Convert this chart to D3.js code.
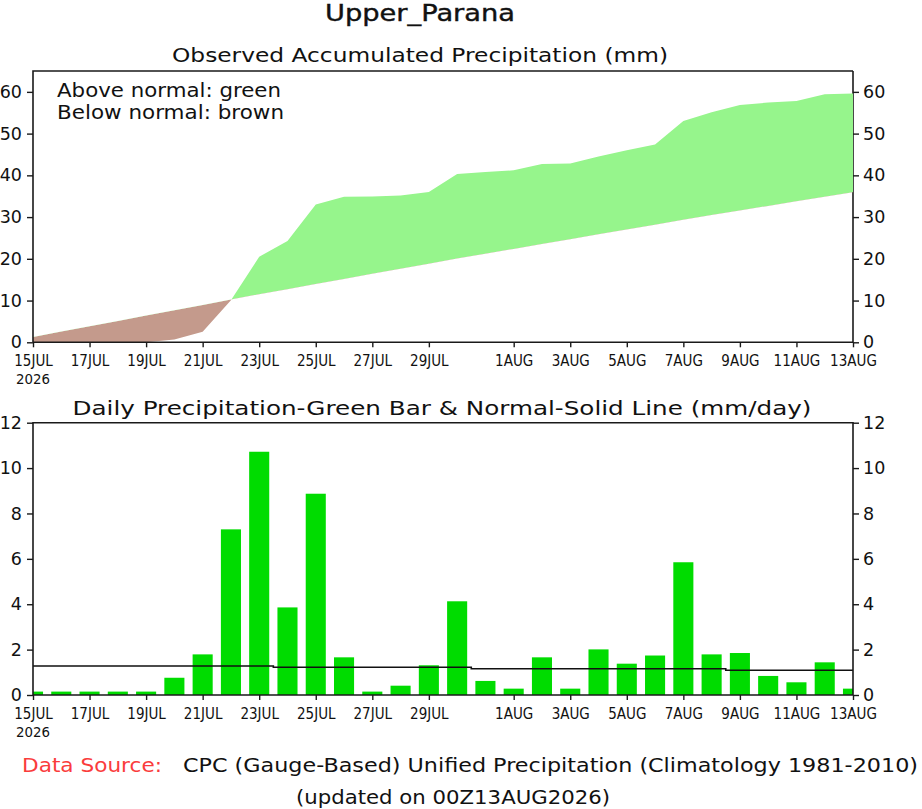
<!DOCTYPE html>
<html><head><meta charset="utf-8">
<script src="https://cdn.jsdelivr.net/npm/d3@7"></script>
<style>
body{margin:0;background:#fff}
svg{display:block}
text{font-family:"DejaVu Sans",sans-serif}
</style>
</head><body>
<svg id="c" width="922" height="809"></svg>
<script>
// ---------------- data ----------------
const days = ["15JUL","16JUL","17JUL","18JUL","19JUL","20JUL","21JUL","22JUL","23JUL","24JUL",
  "25JUL","26JUL","27JUL","28JUL","29JUL","30JUL","31JUL","1AUG","2AUG","3AUG",
  "4AUG","5AUG","6AUG","7AUG","8AUG","9AUG","10AUG","11AUG","12AUG","13AUG"];
const tickLabels = ["15JUL","17JUL","19JUL","21JUL","23JUL","25JUL","27JUL","29JUL",
  "1AUG","3AUG","5AUG","7AUG","9AUG","11AUG","13AUG"];
const yearLabel = "2026";
// daily observed precipitation (mm/day)
const dailyObs = [0.15,0.15,0.15,0.15,0.15,0.76,1.79,7.3,10.72,3.86,
  8.87,1.66,0.15,0.41,1.31,4.13,0.62,0.28,1.66,0.28,
  2.01,1.38,1.74,5.85,1.79,1.85,0.84,0.56,1.44,0.28];
// daily normal (mm/day)
const dailyNormal = [1.28,1.28,1.28,1.28,1.28,1.28,1.28,1.28,1.28,1.22,
  1.22,1.22,1.22,1.22,1.22,1.22,1.16,1.16,1.16,1.16,
  1.16,1.16,1.16,1.16,1.16,1.09,1.09,1.09,1.09,1.09];
// observed accumulated precipitation (mm)
const accumObs = [0,0,0,0,0,0.7,2.5,10.1,20.5,24.3,
  33.0,34.9,34.95,35.2,36.0,40.3,40.8,41.2,42.7,42.85,
  44.5,46.0,47.4,53.0,55.1,56.85,57.45,57.8,59.4,59.6];
const accumTicks = [0,10,20,30,40,50,60];
const dailyTicks = [0,2,4,6,8,10,12];

// ---------------- layout ----------------
const svg = d3.select("#c");
const L = 33, R = 853;
const GREEN_FILL = "#96f58c", BROWN_FILL = "#c49a8c", BAR = "#00dc00", FRAME = "#1a1a1a", INK = "#111";
const x = d3.scalePoint().domain(days).range([L, R]).padding(0);
const yA = d3.scaleLinear().domain([0, 65]).range([342.3, 71]);
const yD = d3.scaleLinear().domain([0, 12]).range([695, 422.7]);
const accNorm = Array.from(d3.cumsum(dailyNormal));

const defs = svg.append("defs");
const X = (d, i) => x(days[i]);

// ---------- top panel ----------
defs.append("clipPath").attr("id", "above").append("path")
  .attr("d", d3.area().x(X).y0((d, i) => yA(accNorm[i])).y1(yA(65))(days));
defs.append("clipPath").attr("id", "below").append("path")
  .attr("d", d3.area().x(X).y0((d, i) => yA(accNorm[i])).y1(yA(0))(days));

svg.append("line").attr("x1", R).attr("x2", R).attr("y1", yA(65)).attr("y2", yA(0))
  .attr("stroke", FRAME).attr("stroke-width", 1.6);

const between = d3.area().x(X).y0((d, i) => yA(accNorm[i])).y1((d, i) => yA(accumObs[i]));
svg.append("path").attr("d", between(days)).attr("fill", GREEN_FILL).attr("clip-path", "url(#above)");
svg.append("path").attr("d", between(days)).attr("fill", BROWN_FILL).attr("clip-path", "url(#below)");

svg.append("path")
  .attr("d", `M${L},${yA(0)}V${yA(65)}H${R}M${L},${yA(0)}H${R}`)
  .attr("fill", "none").attr("stroke", FRAME).attr("stroke-width", 1.6);

function styleAxis(g, size) {
  g.select(".domain").remove();
  g.attr("font-family", '"DejaVu Sans",sans-serif').attr("font-size", size);
  g.selectAll("line").attr("stroke", FRAME).attr("stroke-width", 1.4);
  g.selectAll("text").style("fill", INK);
}
function squeeze(sel, k) {
  sel.each(function () {
    const w = this.getComputedTextLength();
    d3.select(this).attr("textLength", w * k).attr("lengthAdjust", "spacingAndGlyphs");
  });
}

function xAxis(y0) {
  const g = svg.append("g").attr("transform", `translate(0,${y0})`)
    .call(d3.axisBottom(x).tickValues(tickLabels).tickSize(5).tickSizeOuter(0));
  styleAxis(g, 15);
  g.selectAll("text").attr("y", 24).attr("dy", 0);
  squeeze(g.selectAll("text"), 0.9);
  const t = svg.append("text").attr("x", L).attr("y", y0 + 41.5).attr("text-anchor", "middle")
    .attr("font-size", 14.5).style("fill", INK).text(yearLabel);
  squeeze(t, 0.92);
}
function yAxes(scale, ticks) {
  const gl = svg.append("g").attr("transform", `translate(${L},0)`)
    .call(d3.axisLeft(scale).tickValues(ticks).tickSize(6).tickPadding(5).tickSizeOuter(0));
  styleAxis(gl, 17.5);
  const gr = svg.append("g").attr("transform", `translate(${R},0)`)
    .call(d3.axisRight(scale).tickValues(ticks).tickSize(6).tickPadding(4).tickSizeOuter(0));
  styleAxis(gr, 17.5);
}
xAxis(yA(0));
yAxes(yA, accumTicks);

// ---------- bottom panel ----------
defs.append("clipPath").attr("id", "plot2").append("rect")
  .attr("x", L).attr("y", yD(12)).attr("width", R - L).attr("height", yD(0) - yD(12));
const bw = x.step() * 0.71;
svg.append("g").attr("clip-path", "url(#plot2)")
  .selectAll("rect").data(dailyObs).join("rect")
  .attr("x", (d, i) => x(days[i]) - bw / 2).attr("width", bw)
  .attr("y", d => yD(d)).attr("height", d => yD(0) - yD(d))
  .attr("fill", BAR);

svg.append("path")
  .attr("d", d3.line().curve(d3.curveStep).x(X).y(d => yD(d))(dailyNormal))
  .attr("fill", "none").attr("stroke", INK).attr("stroke-width", 1.6);

svg.append("path")
  .attr("d", `M${L},${yD(0)}V${yD(12)}H${R}V${yD(0)}M${L},${yD(0)}H${R}`)
  .attr("fill", "none").attr("stroke", FRAME).attr("stroke-width", 1.6);
xAxis(yD(0));
yAxes(yD, dailyTicks);

// ---------- texts ----------
function txt(s, xx, yy, size, len, anchor, fill) {
  return svg.append("text").attr("x", xx).attr("y", yy).attr("font-size", size)
    .attr("text-anchor", anchor || "start").attr("textLength", len)
    .attr("lengthAdjust", "spacingAndGlyphs").style("fill", fill || INK).text(s);
}
txt("Upper_Parana", 420, 21, 23, 190, "middle").style("stroke", INK).style("stroke-width", 0.4);
txt("Observed Accumulated Precipitation (mm)", 420, 62, 19, 496, "middle");
txt("Above normal: green", 57, 97, 19, 224);
txt("Below normal: brown", 57, 119, 19, 227);
txt("Daily Precipitation-Green Bar & Normal-Solid Line (mm/day)", 442, 415, 19, 739, "middle");
txt("Data Source:", 22, 772, 19, 140, "start", "#fa3c3c");
txt("CPC (Gauge-Based) Unified Precipitation (Climatology 1981-2010)", 183, 772, 19, 735);
txt("(updated on 00Z13AUG2026)", 453, 804, 19, 314, "middle");
</script>
</body></html>
